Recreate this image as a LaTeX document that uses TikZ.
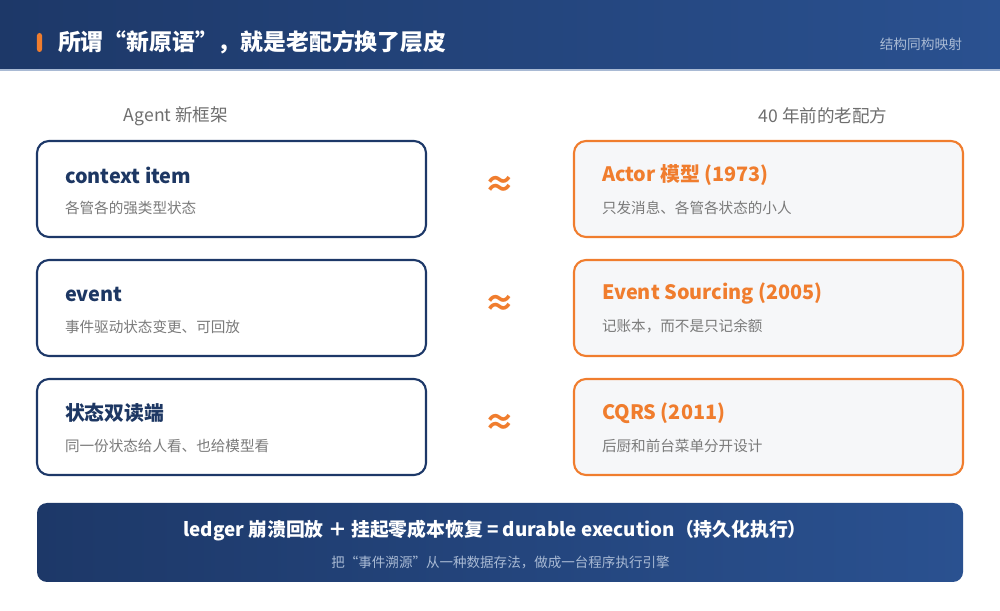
\documentclass[tikz,border=0pt]{standalone}
\usepackage{fontspec}
\setmainfont{Noto Sans CJK SC}
\usetikzlibrary{positioning}
\definecolor{navy}{HTML}{1D3868}
\definecolor{navyR}{HTML}{2A5190}
\definecolor{orng}{HTML}{F07D2E}
\definecolor{cardbg}{HTML}{F6F7F9}
\definecolor{subgray}{HTML}{7A7A7A}
\definecolor{headgray}{HTML}{6E6E6E}
\definecolor{paleblue}{HTML}{A9BAD4}
\definecolor{titleblue}{HTML}{1D3763}

\begin{document}
\begin{tikzpicture}[
		every node/.style = {inner sep=0pt, outer sep=0pt},
		leftbox/.style = {
			draw=navy, line width=1.2pt, fill=white,
			rounded corners=0.24cm,
			minimum width=7.78cm, minimum height=1.92cm
		},
		rightbox/.style = {leftbox, draw=orng, fill=cardbg},
		boxtitle/.style = {anchor=west, font=\fontsize{11.3}{13}\selectfont\bfseries},
		boxsub/.style = {anchor=west, text=subgray, font=\fontsize{8.3}{10}\selectfont},
		heading/.style = {text=headgray, font=\fontsize{10}{12}\selectfont},
		approxsign/.style = {text=orng, font=\fontsize{17.5}{19}\selectfont\bfseries}
		]
		\useasboundingbox (0,0) rectangle (20,-12.22);
		% header band
		\node [left color=navy, right color=navyR, minimum width=20cm, minimum height=1.4cm] (band) at (10,-0.7) {};
		\draw [paleblue, line width=0.6pt] (band.south west) -- (band.south east);
		\node [fill=orng, rounded corners=0.05cm, minimum width=0.1cm, minimum height=0.38cm] (mark) at (0.79,-0.85) {};
		\node [anchor=west, text=white, font=\fontsize{13}{15}\selectfont\bfseries] (title) at (1.16,-0.84) {所谓“新原语”，就是老配方换了层皮};
		\node [anchor=east, text=paleblue, font=\fontsize{7.8}{9}\selectfont] (tag) at (19.24,-0.88) {结构同构映射};
		% column headings
		\node [heading] (hnew) at (3.52,-2.32) {Agent 新框架};
		\node [heading] (hold) at (16.46,-2.32) {40 年前的老配方};
		% left column
		\node [leftbox] (ctx) at (4.63,-3.78) {};
		\node [leftbox, below=0.46cm of ctx] (evt) {};
		\node [leftbox, below=0.46cm of evt] (dual) {};
		% right column
		\node [rightbox, right=2.96cm of ctx] (actor) {};
		\node [rightbox, right=2.96cm of evt] (esrc) {};
		\node [rightbox, right=2.96cm of dual] (cqrs) {};
		% texts
		\node [boxtitle, text=titleblue] (ctxT) at ([xshift=0.56cm, yshift=0.28cm]ctx.west) {context item};
		\node [boxsub] (ctxS) at ([xshift=0.56cm, yshift=-0.37cm]ctx.west) {各管各的强类型状态};
		\node [boxtitle, text=titleblue] (evtT) at ([xshift=0.56cm, yshift=0.28cm]evt.west) {event};
		\node [boxsub] (evtS) at ([xshift=0.56cm, yshift=-0.37cm]evt.west) {事件驱动状态变更、可回放};
		\node [boxtitle, text=titleblue] (dualT) at ([xshift=0.56cm, yshift=0.28cm]dual.west) {状态双读端};
		\node [boxsub] (dualS) at ([xshift=0.56cm, yshift=-0.37cm]dual.west) {同一份状态给人看、也给模型看};
		\node [boxtitle, text=orng] (actorT) at ([xshift=0.56cm, yshift=0.28cm]actor.west) {Actor 模型 (1973)};
		\node [boxsub] (actorS) at ([xshift=0.56cm, yshift=-0.37cm]actor.west) {只发消息、各管各状态的小人};
		\node [boxtitle, text=orng] (esrcT) at ([xshift=0.56cm, yshift=0.28cm]esrc.west) {Event Sourcing (2005)};
		\node [boxsub] (esrcS) at ([xshift=0.56cm, yshift=-0.37cm]esrc.west) {记账本，而不是只记余额};
		\node [boxtitle, text=orng] (cqrsT) at ([xshift=0.56cm, yshift=0.28cm]cqrs.west) {CQRS (2011)};
		\node [boxsub] (cqrsS) at ([xshift=0.56cm, yshift=-0.37cm]cqrs.west) {后厨和前台菜单分开设计};
		% approx signs
		\node [approxsign, right=1.48cm of ctx, anchor=center, yshift=0.06cm] (ap1) {≈};
		\node [approxsign, right=1.48cm of evt, anchor=center, yshift=0.06cm] (ap2) {≈};
		\node [approxsign, right=1.48cm of dual, anchor=center, yshift=0.06cm] (ap3) {≈};
		% bottom banner
		\node [left color=navy, right color=navyR, rounded corners=0.2cm, minimum width=18.52cm, minimum height=1.58cm] (sum) at (10,-10.85) {};
		\node [text=white, font=\fontsize{10.7}{12}\selectfont\bfseries] (sumT) at (9.9,-10.62) {ledger 崩溃回放 ＋ 挂起零成本恢复 = durable execution（持久化执行）};
		\node [text=paleblue, font=\fontsize{7.7}{9}\selectfont] (sumS) at (10.01,-11.24) {把“事件溯源”从一种数据存法，做成一台程序执行引擎};
	\end{tikzpicture}
\end{document}
